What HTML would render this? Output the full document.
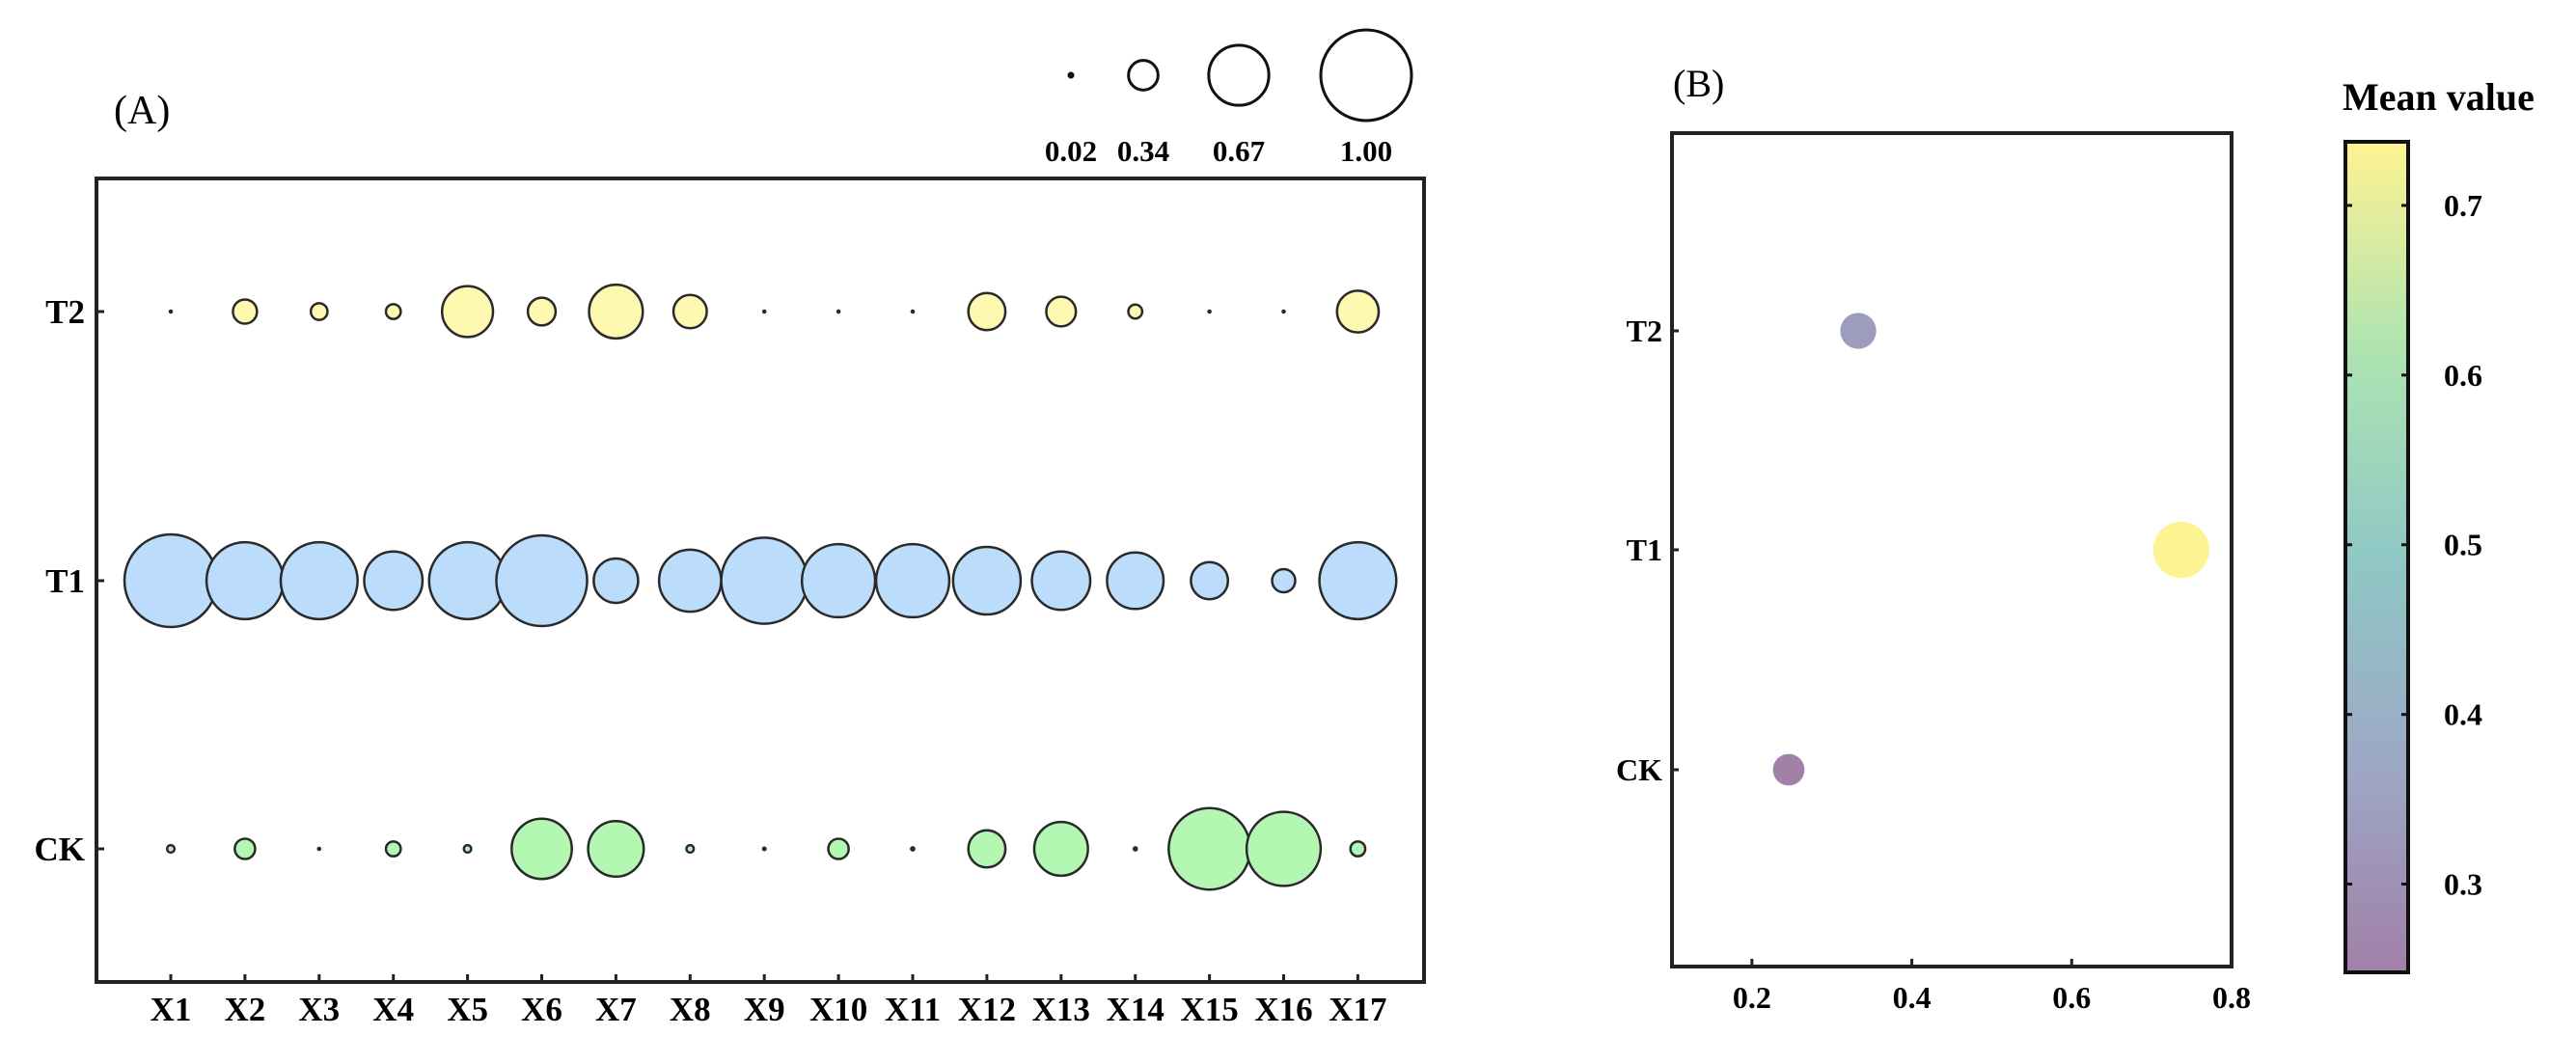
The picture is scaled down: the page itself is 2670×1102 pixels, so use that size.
<!DOCTYPE html>
<html><head><meta charset="utf-8"><style>
html,body{margin:0;padding:0;background:#fff;}
svg{display:block;font-family:"Liberation Serif",serif;}
</style></head><body>
<svg id="chart" width="2670" height="1102" viewBox="0 0 2670 1102">
<defs>
<linearGradient id="vir" x1="0" y1="1" x2="0" y2="0">
<stop offset="0" stop-color="#440154"/><stop offset="0.25" stop-color="#3b528b"/><stop offset="0.5" stop-color="#21918c"/><stop offset="0.75" stop-color="#5ec962"/><stop offset="1" stop-color="#fde725"/>
</linearGradient>
</defs>
<g id="pa"></g>
<g id="pb"></g>
</svg>
<script>
const categories = ["X1","X2","X3","X4","X5","X6","X7","X8","X9","X10","X11","X12","X13","X14","X15","X16","X17"];
const groups = ["CK","T1","T2"];
const valuesT2 = [0.02,0.26,0.18,0.16,0.55,0.30,0.58,0.36,0.02,0.04,0.05,0.40,0.32,0.15,0.02,0.02,0.45];
const valuesT1 = [1.00,0.83,0.83,0.63,0.83,0.98,0.48,0.67,0.93,0.79,0.79,0.73,0.63,0.61,0.40,0.25,0.83];
const valuesCK = [0.08,0.22,0.03,0.16,0.08,0.65,0.60,0.08,0.06,0.22,0.07,0.40,0.58,0.07,0.88,0.80,0.16];
const sizeLegend = [0.02,0.34,0.67,1.00];
const sizeLegendLabels = ["0.02","0.34","0.67","1.00"];
const meanGroups = ["T2","T1","CK"];
const meanValues = [0.333,0.737,0.246];
const xTicksB = [0.2,0.4,0.6,0.8];
const cbTicks = [0.3,0.4,0.5,0.6,0.7];

const NS="http://www.w3.org/2000/svg";
function mk(parent,tag,attrs,text){const e=document.createElementNS(NS,tag);for(const k in attrs)e.setAttribute(k,attrs[k]);if(text!==undefined)e.textContent=text;parent.appendChild(e);return e;}

// Panel A
const pa=document.getElementById('pa');
const A={l:100,r:1476,t:185,b:1018};
const xA=i=>177+i*76.9;
const yA=g=>({CK:880,T1:602,T2:323})[g];
const rA=v=>v*48;
let e=mk(pa,'text',{x:118,y:128,'font-size':42},'(A)');


e=mk(pa,'rect',{x:A.l,y:A.t,width:A.r-A.l,height:A.b-A.t,fill:'none',stroke:'#222','stroke-width':4});


categories.forEach((c,i)=>{
  mk(pa,'line',{x1:xA(i),x2:xA(i),y1:A.b,y2:A.b-8,stroke:'#222','stroke-width':3});
  const t=mk(pa,'text',{x:xA(i),y:1058,'font-size':35,'font-weight':'bold','text-anchor':'middle'},c);
  
  
});
groups.forEach(g=>{
  mk(pa,'line',{x1:A.l,x2:A.l+8,y1:yA(g),y2:yA(g),stroke:'#222','stroke-width':3});
  const t=mk(pa,'text',{x:88,y:yA(g)+12,'font-size':35,'font-weight':'bold','text-anchor':'end'},g);
  
  
});
const series=[["T2",valuesT2,"#fff8b0"],["T1",valuesT1,"#bbdcfb"],["CK",valuesCK,"#b3f7b3"]];
series.forEach(([g,vals,col])=>{
  vals.forEach((v,i)=>{
    const r=rA(v);
    const small=r<3.5;
    const c=mk(pa,'circle',{cx:xA(i),cy:yA(g),r:small?Math.max(r*0.7,1.8):r,fill:small?'#2a2a2a':col,stroke:'#2a2a2a','stroke-width':small?1:2.5});
    
    
  });
});
const legX=[1110,1185,1284,1416];
sizeLegend.forEach((v,i)=>{
  const c=mk(pa,'circle',{cx:legX[i],cy:78,r:Math.max(rA(v)-1,2),fill:v<0.05?'#111':'none',stroke:'#111','stroke-width':3});
  
  
  const t=mk(pa,'text',{x:legX[i],y:167,'font-size':31,'font-weight':'bold','text-anchor':'middle'},sizeLegendLabels[i]);
  
  
});

// Panel B
const pb=document.getElementById('pb');
const B={l:1733,r:2313,t:138,b:1002};
const xB=v=>B.l+(v-0.1)/0.7*(B.r-B.l);
const yB=g=>({T2:343,T1:570,CK:798})[g];
const cbT=147,cbB=1008,cbMin=0.248,cbMax=0.7375;
const yCb=v=>cbB-(v-cbMin)/(cbMax-cbMin)*(cbB-cbT);
const vir=[[68,1,84],[59,82,139],[33,145,140],[94,201,98],[253,231,37]];
function colorFor(v){let t=(v-cbMin)/(cbMax-cbMin);t=Math.max(0,Math.min(1,t));const s=t*4;const i=Math.min(3,Math.floor(s));const f=s-i;const c=vir[i].map((a,k)=>a+(vir[i+1][k]-a)*f);return 'rgb('+c.map(x=>Math.round(255*0.5+x*0.5)).join(',')+')';}
e=mk(pb,'text',{x:1734,y:100,'font-size':40},'(B)');


e=mk(pb,'rect',{x:B.l,y:B.t,width:B.r-B.l,height:B.b-B.t,fill:'none',stroke:'#222','stroke-width':4});


xTicksB.forEach(v=>{
  mk(pb,'line',{x1:xB(v),x2:xB(v),y1:B.b,y2:B.b-8,stroke:'#222','stroke-width':3});
  const t=mk(pb,'text',{x:xB(v),y:1045,'font-size':32,'font-weight':'bold','text-anchor':'middle'},v.toFixed(1));
  
  
});
meanGroups.forEach((g,i)=>{
  mk(pb,'line',{x1:B.l,x2:B.l+7,y1:yB(g),y2:yB(g),stroke:'#222','stroke-width':3});
  const t=mk(pb,'text',{x:1723,y:yB(g)+11,'font-size':32,'font-weight':'bold','text-anchor':'end'},g);
  
  
  const v=meanValues[i];
  const c=mk(pb,'circle',{cx:xB(v),cy:yB(g),r:10+26*v,fill:colorFor(v)});
  
  
});
e=mk(pb,'rect',{x:2431,y:cbT,width:65,height:cbB-cbT,fill:'url(#vir)','fill-opacity':0.5,stroke:'#111','stroke-width':4});


cbTicks.forEach(v=>{
  mk(pb,'line',{x1:2431,x2:2438,y1:yCb(v),y2:yCb(v),stroke:'#111','stroke-width':3});
  mk(pb,'line',{x1:2489,x2:2496,y1:yCb(v),y2:yCb(v),stroke:'#111','stroke-width':3});
  const t=mk(pb,'text',{x:2533,y:yCb(v)+11,'font-size':32,'font-weight':'bold'},v.toFixed(1));
  
  
});
e=mk(pb,'text',{x:2428,y:114,'font-size':40,'font-weight':'bold'},'Mean value');


</script>
</body></html>
